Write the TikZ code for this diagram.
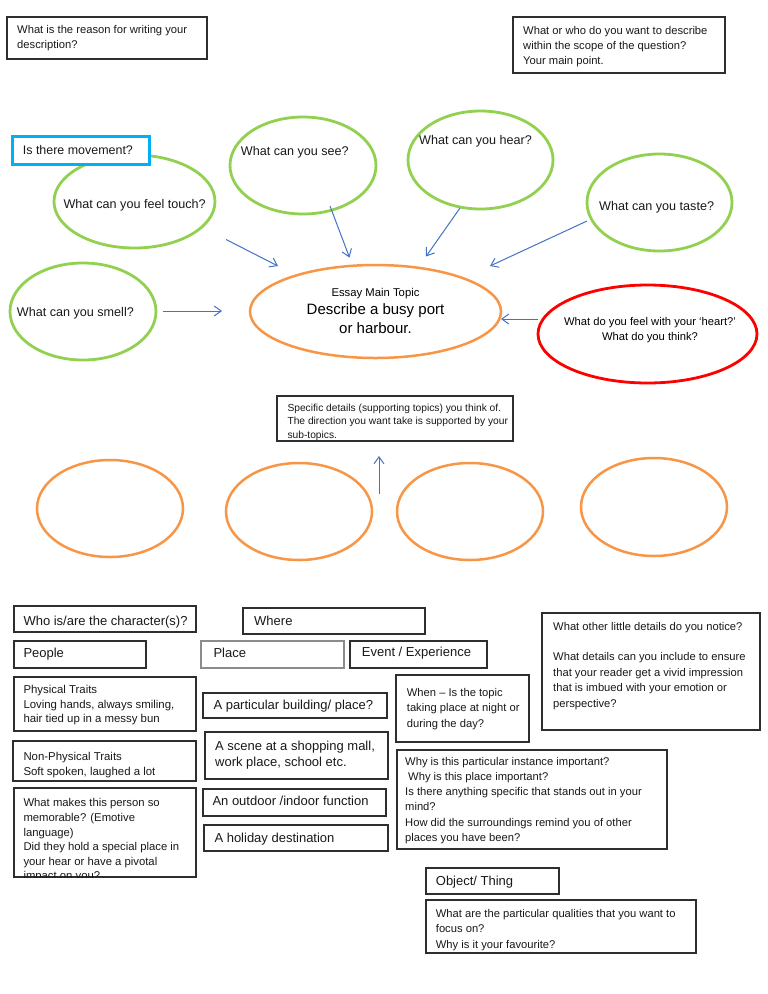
\documentclass[tikz,border=0pt]{standalone}
\usepackage{fontspec}
\setmainfont{Liberation Sans}
\usetikzlibrary{shapes.geometric,arrows.meta}
\definecolor{grn}{RGB}{146,208,80}
\definecolor{orng}{RGB}{247,150,70}
\definecolor{arrblue}{RGB}{68,114,196}
\definecolor{cyanb}{RGB}{0,176,240}
\definecolor{redc}{RGB}{255,0,0}
\newcommand\myfs[2]{\fontsize{#1}{#2}\selectfont}
\begin{document}
\begin{tikzpicture}[x=1pt,y=-1pt,
  box/.style={draw=black!82,line width=1.3pt,anchor=north west,inner sep=0pt,outer sep=0pt},
  lightbox/.style={box,draw=black!45},
  bluebox/.style={box,draw=cyanb,line width=3pt},
  sense/.style={ellipse,draw=grn,line width=2.8pt,inner sep=0pt},
  topic/.style={ellipse,draw=orng,line width=2.5pt,inner sep=0pt},
  heart/.style={ellipse,draw=redc,line width=2.8pt,inner sep=0pt},
  txt/.style={anchor=north west,inner sep=0pt,align=left,text=black!90,yshift=-1.5pt,font=\myfs{11.3}{14.6}},
  line/.style={anchor=base west,inner sep=0pt,text=black!90},
  big/.style={line,font=\myfs{13}{15}},
  mid/.style={line,font=\myfs{12.6}{15}},
  arr/.style={draw=arrblue,line width=1pt,-{Straight Barb[length=7pt,width=10pt,line width=1pt]}}]
\fill[white] (0,0) rectangle (768,994);
\useasboundingbox (0,0) rectangle (768,994);

% top boxes
\node[box,minimum width=200,minimum height=42] (breason) at (7,17) {};
\node[txt,font=\myfs{11.2}{14.7}] (treason) at (17,24) {What is the reason for writing your\\description?};
\node[box,minimum width=212,minimum height=56] (bwhat) at (513,17) {};
\node[txt,font=\myfs{11.2}{15}] (twhat) at (523,25) {What or who do you want to describe\\within the scope of the question?\\Your main point.};

% sense ellipses
\node[sense,minimum width=161,minimum height=93] (touch) at (134.5,201.5) {};
\node[bluebox,minimum width=137,minimum height=28,fill=white] (bmove) at (12,136) {};
\node[line,font=\myfs{12.45}{15}] (tmove) at (22.7,154) {Is there movement?};
\node[mid] (ttouch) at (63.3,208.3) {What can you feel touch?};
\node[sense,minimum width=146,minimum height=97] (see) at (303,165.5) {};
\node[mid] (tsee) at (240.7,155.3) {What can you see?};
\node[sense,minimum width=145,minimum height=98] (hear) at (480.5,160) {};
\node[mid] (thear) at (419,144.7) {What can you hear?};
\node[sense,minimum width=145,minimum height=97] (taste) at (659.5,202.5) {};
\node[mid] (ttaste) at (599,210) {What can you taste?};
\node[sense,minimum width=146,minimum height=97] (smell) at (83,311.5) {};
\node[mid] (tsmell) at (16.7,316) {What can you smell?};

% main topic
\node[topic,minimum width=251,minimum height=93] (main) at (375.5,311.5) {};
\node[anchor=base,inner sep=0pt,font=\myfs{11.3}{14}] (tmain1) at (375.5,296) {Essay Main Topic};
\node[anchor=base,inner sep=0pt,font=\myfs{15}{19}] (tmain2) at (375.5,314) {Describe a busy port};
\node[anchor=base,inner sep=0pt,font=\myfs{15}{19}] (tmain3) at (375.5,333.3) {or harbour.};

% heart
\node[heart,minimum width=219,minimum height=98] (heartc) at (647.5,334) {};
\node[anchor=base,inner sep=0pt,font=\myfs{11.2}{15}] (theart1) at (650,325.7) {What do you feel with your ‘heart?’};
\node[anchor=base,inner sep=0pt,font=\myfs{11.2}{15}] (theart2) at (650,340.7) {What do you think?};

% arrows
\coordinate (a1s) at (226,239.5); \coordinate (a1e) at (278,266);
\coordinate (a2s) at (330,206);   \coordinate (a2e) at (349.5,257.5);
\coordinate (a3s) at (460,208);   \coordinate (a3e) at (426,256.5);
\coordinate (a4s) at (587,221);   \coordinate (a4e) at (490,266);
\coordinate (a5s) at (163,311);   \coordinate (a5e) at (222,311);
\coordinate (a6s) at (538,319);   \coordinate (a6e) at (501,319);
\coordinate (a7s) at (379,494);   \coordinate (a7e) at (379,456);
\draw[arr] (a1s) -- (a1e);
\draw[arr] (a2s) -- (a2e);
\draw[arr] (a3s) -- (a3e);
\draw[arr] (a4s) -- (a4e);
\draw[arr] (a5s) -- (a5e);
\draw[arr] (a6s) -- (a6e);
\draw[arr] (a7s) -- (a7e);

% specific details
\node[box,minimum width=236,minimum height=45] (bspec) at (277,396) {};
\begin{scope}
\clip (bspec.south west) rectangle (bspec.north east);
\node[txt,font=\myfs{10.25}{13.5}] (tspec) at (287.3,402.3) {Specific details (supporting topics) you think of.\\The direction you want take is supported by your\\sub-topics.};
\end{scope}

% sub-topic circles
\node[topic,minimum width=146,minimum height=97] (c1) at (110,508.5) {};
\node[topic,minimum width=146,minimum height=97] (c2) at (299,511.5) {};
\node[topic,minimum width=146,minimum height=97] (c3) at (470,511.5) {};
\node[topic,minimum width=146,minimum height=98] (c4) at (654,507) {};

% bottom: character column
\node[box,minimum width=182,minimum height=26] (bwho) at (14,606) {};
\node[big] (twho) at (23.3,625) {Who is/are the character(s)?};
\node[box,minimum width=132,minimum height=27] (bpeople) at (14,641) {};
\node[big] (tpeople) at (23.3,657) {People};
\node[box,minimum width=182,minimum height=54] (bphys) at (14,677) {};
\node[txt,font=\myfs{11.4}{14.5}] (tphys) at (23.3,684) {Physical Traits\\Loving hands, always smiling,\\hair tied up in a messy bun};
\node[box,minimum width=183,minimum height=40] (bnon) at (13,741) {};
\node[txt,font=\myfs{11.4}{14.8}] (tnon) at (23.3,750.5) {Non-Physical Traits\\Soft spoken, laughed a lot};
\node[box,minimum width=182,minimum height=89] (bmem) at (14,788) {};
\begin{scope}
\clip (bmem.south west) rectangle (bmem.north east);
\node[txt,font=\myfs{11.3}{14.6}] (tmem) at (23.3,797) {What makes this person so\\memorable? (Emotive\\language)\\Did they hold a special place in\\your hear or have a pivotal\\impact on you?};
\end{scope}

% where column
\node[box,minimum width=182,minimum height=26] (bwhere) at (243,608) {};
\node[big] (twhere) at (254,625) {Where};
\node[lightbox,minimum width=143,minimum height=27] (bplace) at (201,641) {};
\node[big] (tplace) at (213.3,657) {Place};
\node[box,minimum width=137,minimum height=27] (bevent) at (350,641) {};
\node[big] (tevent) at (361.7,656.5) {Event / Experience};
\node[box,minimum width=184,minimum height=25] (bbuild) at (203,693) {};
\node[big] (tbuild) at (213.3,709) {A particular building/ place?};
\node[box,minimum width=183,minimum height=47] (bscene) at (205,732) {};
\node[txt,font=\myfs{13}{16}] (tscene) at (215,739.2) {A scene at a shopping mall,\\work place, school etc.};
\node[box,minimum width=183,minimum height=27] (bout) at (203,789) {};
\node[big] (tout) at (212.3,805.5) {An outdoor /indoor function};
\node[box,minimum width=184,minimum height=26] (bhol) at (204,825) {};
\node[big] (thol) at (214.3,842) {A holiday destination};

% event column
\node[box,minimum width=133,minimum height=67] (bwhen) at (396,675) {};
\node[txt,font=\myfs{11.2}{15.5}] (twhen) at (406.7,686.5) {When – Is the topic\\taking place at night or\\during the day?};
\node[box,minimum width=270,minimum height=99] (bwhy) at (397,750) {};
\node[txt,font=\myfs{11.2}{15.2}] (twhy) at (405,755.5) {Why is this particular instance important?\\\hspace*{3pt}Why is this place important?\\Is there anything specific that stands out in your\\mind?\\How did the surroundings remind you of other\\places you have been?};
\node[box,minimum width=218,minimum height=117] (bother) at (542,613) {};
\node[txt,font=\myfs{11.2}{15.4}] (tother) at (553,621) {What other little details do you notice?\\[14.7pt]What details can you include to ensure\\that your reader get a vivid impression\\that is imbued with your emotion or\\perspective?};

% object
\node[box,minimum width=133,minimum height=26] (bobj) at (426,868) {};
\node[big] (tobj) at (435.7,885) {Object/ Thing};
\node[box,minimum width=270,minimum height=53] (bqual) at (426,900) {};
\node[txt,font=\myfs{11.2}{15.5}] (tqual) at (435.7,907.5) {What are the particular qualities that you want to\\focus on?\\Why is it your favourite?};
\end{tikzpicture}
\end{document}
